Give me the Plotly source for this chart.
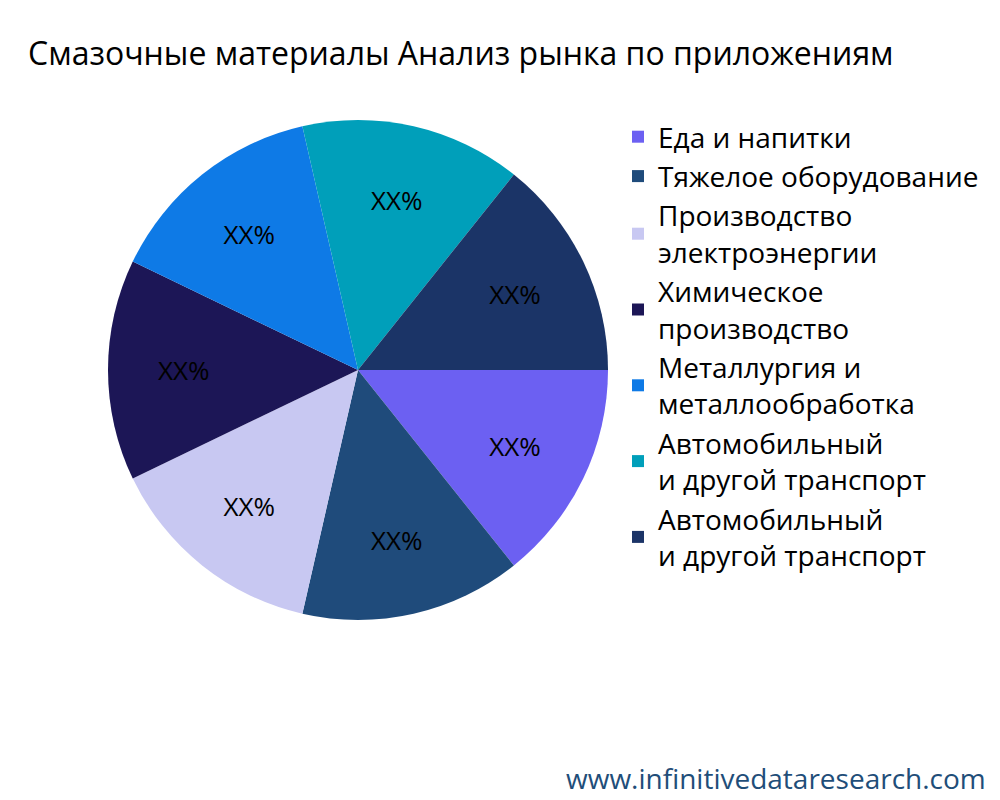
import plotly.graph_objects as go

labels = [
    "Еда и напитки",
    "Тяжелое оборудование",
    "Производство<br>электроэнергии",
    "Химическое<br>производство",
    "Металлургия и<br>металлообработка",
    "Автомобильный<br>и другой транспорт",
    "Автомобильный<br>и другой транспорт ",
]
values = [1, 1, 1, 1, 1, 1, 1]
texts = ["XX%"] * 7
colors = ["#6c60f2", "#1f4b7b", "#c8c8f2", "#1c1656", "#0e7ae6", "#009fba", "#1b3467"]

fig = go.Figure(go.Pie(
    labels=labels, values=values, text=texts, textinfo="text",
    marker=dict(colors=colors), sort=False, direction="clockwise", rotation=90,
    textfont=dict(size=26, color="black"), insidetextorientation="horizontal",
    domain=dict(x=[0.1, 0.6], y=[0.235, 0.86]),
))

fig.update_layout(
    width=1000, height=800,
    margin=dict(l=0, r=0, t=0, b=0),
    font=dict(family="Open Sans, Noto Sans, sans-serif"),
    title=dict(text="Смазочные материалы Анализ рынка по приложениям", x=0.02, xanchor="left",
               y=0.943, yanchor="middle", font=dict(size=32, color="black")),
    legend=dict(x=0.61, y=0.87, yanchor="top", font=dict(size=28, color="black"),
                itemsizing="constant"),
    annotations=[dict(text="www.infinitivedataresearch.com", x=0.98, y=0.037, xref="paper", yref="paper",
                      xanchor="right", yanchor="middle", showarrow=False,
                      font=dict(size=28, color="#1f4e79"))],
    paper_bgcolor="white",
)

fig.write_html("out.html")
